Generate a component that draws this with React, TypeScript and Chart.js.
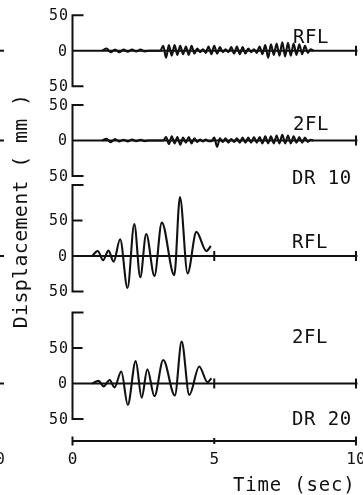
import React, { useEffect, useRef } from 'react';
import { Chart, registerables } from 'chart.js';
Chart.register(...registerables);

// ---- data (time in s, displacement in mm) ----
const rflDr10Time = [1.05, 1.2, 1.35, 1.5, 1.65, 1.8, 1.95, 2.1, 2.25, 2.4, 2.55, 2.7, 3.1,
  3.2, 3.3, 3.4, 3.5, 3.6, 3.7, 3.8, 3.9, 4.0, 4.1, 4.2, 4.3, 4.4, 4.5, 4.6, 4.7, 4.8, 4.9,
  5.0, 5.1, 5.2, 5.3, 5.4, 5.5, 5.6, 5.7, 5.8, 5.9, 6.0, 6.1, 6.2, 6.3, 6.4, 6.5, 6.6, 6.7,
  6.8, 6.9, 7.0, 7.1, 7.2, 7.3, 7.4, 7.5, 7.6, 7.7, 7.8, 7.9, 8.0, 8.1, 8.2, 8.3, 8.4, 8.5];
const rflDr10Disp = [0, 3, -2, 1.5, -2, 1.5, -1.5, 1.5, -1, 1.5, -1, 0, 0,
  7, -10, 8, -7, 8, -6, 7, -5, 6, -6, 7, -4, 3, -2, 2, -3, 6, -5,
  7, -4, 5, -2, 2, -2, 5, -4, 6, -5, 5, -4, 3, -2, 2, -3, 6, -5,
  8, -10, 9, -6, 10, -7, 12, -8, 11, -7, 10, -6, 9, -5, 7, -3, 2, 0];

const twoFlDr10Time = [1.05, 1.2, 1.35, 1.5, 1.65, 1.8, 1.95, 2.1, 2.25, 2.4, 2.55, 2.7, 3.2,
  3.3, 3.4, 3.5, 3.6, 3.7, 3.8, 3.9, 4.0, 4.1, 4.2, 4.3, 4.4, 4.5, 4.6, 4.7, 4.8, 4.9,
  5.0, 5.1, 5.2, 5.3, 5.4, 5.5, 5.6, 5.7, 5.8, 5.9, 6.0, 6.1, 6.2, 6.3, 6.4, 6.5, 6.6, 6.7,
  6.8, 6.9, 7.0, 7.1, 7.2, 7.3, 7.4, 7.5, 7.6, 7.7, 7.8, 7.9, 8.0, 8.1, 8.2, 8.3, 8.4, 8.5];
const twoFlDr10Disp = [0, 2.5, -2.5, 2, -1.5, 1, -1.5, 1.5, -1, 1, -1, 0, 0,
  5, -5, 6, -4, 5, -6, 4, -3, 5, -4, 3, -2, 1.5, -1.5, 1.5, -1, -1,
  4, -9, 3, -2, 3, -3, 2, -2, 3, -3, 4, -3, 4, -3, 5, -3, 5, -4,
  6, -4, 6, -4, 7, -4, 8, -4, 7, -4, 6, -3, 5, -3, 4, -2, 1, 0];

const rflDr20Time = [0.69, 0.89, 1.08, 1.27, 1.45, 1.68, 1.94, 2.18, 2.39, 2.6, 2.89, 3.15, 3.59, 3.79, 4.06, 4.37, 4.72, 4.88];
const rflDr20Disp = [0, 7, -6, 7.5, -8, 23.6, -45, 45, -30, 31, -28, 47, -27, 83, -24.5, 34, 7, 14];

const twoFlDr20Time = [0.69, 0.92, 1.1, 1.31, 1.48, 1.72, 1.95, 2.23, 2.44, 2.64, 2.89, 3.2, 3.61, 3.85, 4.12, 4.47, 4.76, 4.9];
const twoFlDr20Disp = [0, 3.7, -4, 5, -5.5, 17, -30, 31.5, -20, 20, -18, 33, -17, 59, -16, 24, 2, 7.5];

const timeTicks = [0, 5, 10];
const timeTickLabels = ['0', '5', '10'];

const FONT = '"DejaVu Sans Mono", monospace';
const INK = '#111';

export default function App() {
  const ref = useRef<HTMLCanvasElement>(null);

  useEffect(() => {
    const canvas = ref.current!;
    const H = 495;
    const K = 0.71; // px per mm
    const panels = [
      { id: 'y1', zero: 50.7, top: 50, midTick: false, label: 'RFL', labelX: 293, labelY: 43, tag: '', tagY: 0, t: rflDr10Time, v: rflDr10Disp, topLabel: true },
      { id: 'y2', zero: 140.5, top: 50, midTick: false, label: '2FL', labelX: 293, labelY: 130, tag: 'DR 10', tagY: 184, t: twoFlDr10Time, v: twoFlDr10Disp, topLabel: true },
      { id: 'y3', zero: 256, top: 100, midTick: true, label: 'RFL', labelX: 292, labelY: 248, tag: '', tagY: 0, t: rflDr20Time, v: rflDr20Disp, topLabel: false },
      { id: 'y4', zero: 383.5, top: 100, midTick: true, label: '2FL', labelX: 292, labelY: 343, tag: 'DR 20', tagY: 425, t: twoFlDr20Time, v: twoFlDr20Disp, topLabel: false },
    ];

    const scales: any = { x: { type: 'linear', min: 0, max: 10, display: false } };
    panels.forEach((p) => {
      scales[p.id] = { type: 'linear', display: false, max: p.zero / K, min: p.zero / K - H / K };
    });

    const datasets = panels.map((p) => ({
      data: p.t.map((t, i) => ({ x: t, y: p.v[i] })),
      yAxisID: p.id,
      xAxisID: 'x',
      borderColor: INK,
      borderWidth: 2.1,
      pointRadius: 0,
      fill: false,
      cubicInterpolationMode: 'monotone' as const,
    }));

    const axesPlugin = {
      id: 'paperAxes',
      beforeDatasetsDraw(chart: any) {
        const ctx = chart.ctx as CanvasRenderingContext2D;
        const xs = chart.scales.x;
        const x0 = xs.getPixelForValue(0);
        const x5 = xs.getPixelForValue(5);
        const x10 = xs.getPixelForValue(10);
        ctx.save();
        ctx.strokeStyle = INK;
        ctx.fillStyle = INK;
        ctx.lineWidth = 2;
        ctx.lineCap = 'butt';
        const stub = 11;
        panels.forEach((p) => {
          const ys = chart.scales[p.id];
          const yTop = ys.getPixelForValue(p.top);
          const y50 = ys.getPixelForValue(50);
          const y0 = ys.getPixelForValue(0);
          const yBot = ys.getPixelForValue(-50);
          ctx.beginPath();
          ctx.moveTo(x0 + stub, yTop);
          ctx.lineTo(x0, yTop);
          ctx.lineTo(x0, yBot);
          ctx.lineTo(x0 + stub, yBot);
          if (p.top !== 50) {
            ctx.moveTo(x0, y50);
            ctx.lineTo(x0 + stub - 1, y50);
          }
          // zero line
          ctx.moveTo(x0, y0);
          ctx.lineTo(x10 + 1.5, y0);
          ctx.moveTo(x10, y0 - 5);
          ctx.lineTo(x10, y0 + 5);
          if (p.midTick) {
            ctx.moveTo(x5, y0 - 5);
            ctx.lineTo(x5, y0 + 5);
          }
          ctx.stroke();

          // tick labels
          ctx.font = `15px ${FONT}`;
          (ctx as any).letterSpacing = '1px';
          ctx.textAlign = 'right';
          ctx.textBaseline = 'middle';
          if (p.topLabel) ctx.fillText('50', 69, yTop + 1);
          else ctx.fillText('50', 69, y50 + 1);
          ctx.fillText('0', 68, y0 + 1);
          ctx.fillText('50', 69, yBot + 1);

          // panel labels
          ctx.font = `19px ${FONT}`;
          (ctx as any).letterSpacing = '0.5px';
          ctx.textAlign = 'left';
          ctx.textBaseline = 'alphabetic';
          ctx.fillText(p.label, p.labelX, p.labelY);
          if (p.tag) ctx.fillText(p.tag, 292, p.tagY);

          // fragments of neighbouring figure at left edge
          ctx.beginPath();
          ctx.moveTo(0, y0);
          ctx.lineTo(4, y0);
          ctx.stroke();
        });

        // time axis
        const yT = 441;
        ctx.beginPath();
        ctx.moveTo(x0, yT);
        ctx.lineTo(x10, yT);
        ctx.moveTo(x0, yT - 4.5);
        ctx.lineTo(x0, yT + 4.5);
        ctx.moveTo(x5, yT - 3);
        ctx.lineTo(x5, yT + 3);
        ctx.moveTo(x10, yT - 4.5);
        ctx.lineTo(x10, yT + 4.5);
        ctx.stroke();

        ctx.font = `16px ${FONT}`;
        (ctx as any).letterSpacing = '0px';
        ctx.textAlign = 'center';
        ctx.textBaseline = 'middle';
        timeTicks.forEach((t, i) => {
          ctx.fillText(timeTickLabels[i], xs.getPixelForValue(t), 460);
        });
        ctx.fillText('0', 0, 460);

        ctx.font = `19px ${FONT}`;
        (ctx as any).letterSpacing = '0.8px';
        ctx.textAlign = 'left';
        ctx.textBaseline = 'alphabetic';
        ctx.fillText('Time (sec)', 233, 491);

        // y title
        ctx.translate(27, 211);
        ctx.rotate(-Math.PI / 2);
        ctx.font = `20px ${FONT}`;
        (ctx as any).letterSpacing = '0.3px';
        ctx.textAlign = 'center';
        ctx.textBaseline = 'alphabetic';
        ctx.fillText('Displacement ( mm )', 0, 0);
        ctx.restore();
      },
    };

    const chart = new Chart(canvas, {
      type: 'line',
      data: { datasets },
      options: {
        animation: false,
        responsive: false,
        devicePixelRatio: 1,
        layout: { padding: { left: 72.5, right: 7, top: 0, bottom: 0 } },
        scales,
        plugins: { legend: { display: false }, tooltip: { enabled: false }, title: { display: false } },
        events: [],
      },
      plugins: [axesPlugin],
    });
    return () => chart.destroy();
  }, []);

  return (
    <div style={{ position: 'absolute', left: 0, top: 0, width: 363, height: 495, background: '#fff' }}>
      <canvas ref={ref} width={363} height={495} style={{ display: 'block', width: 363, height: 495 }} />
    </div>
  );
}
